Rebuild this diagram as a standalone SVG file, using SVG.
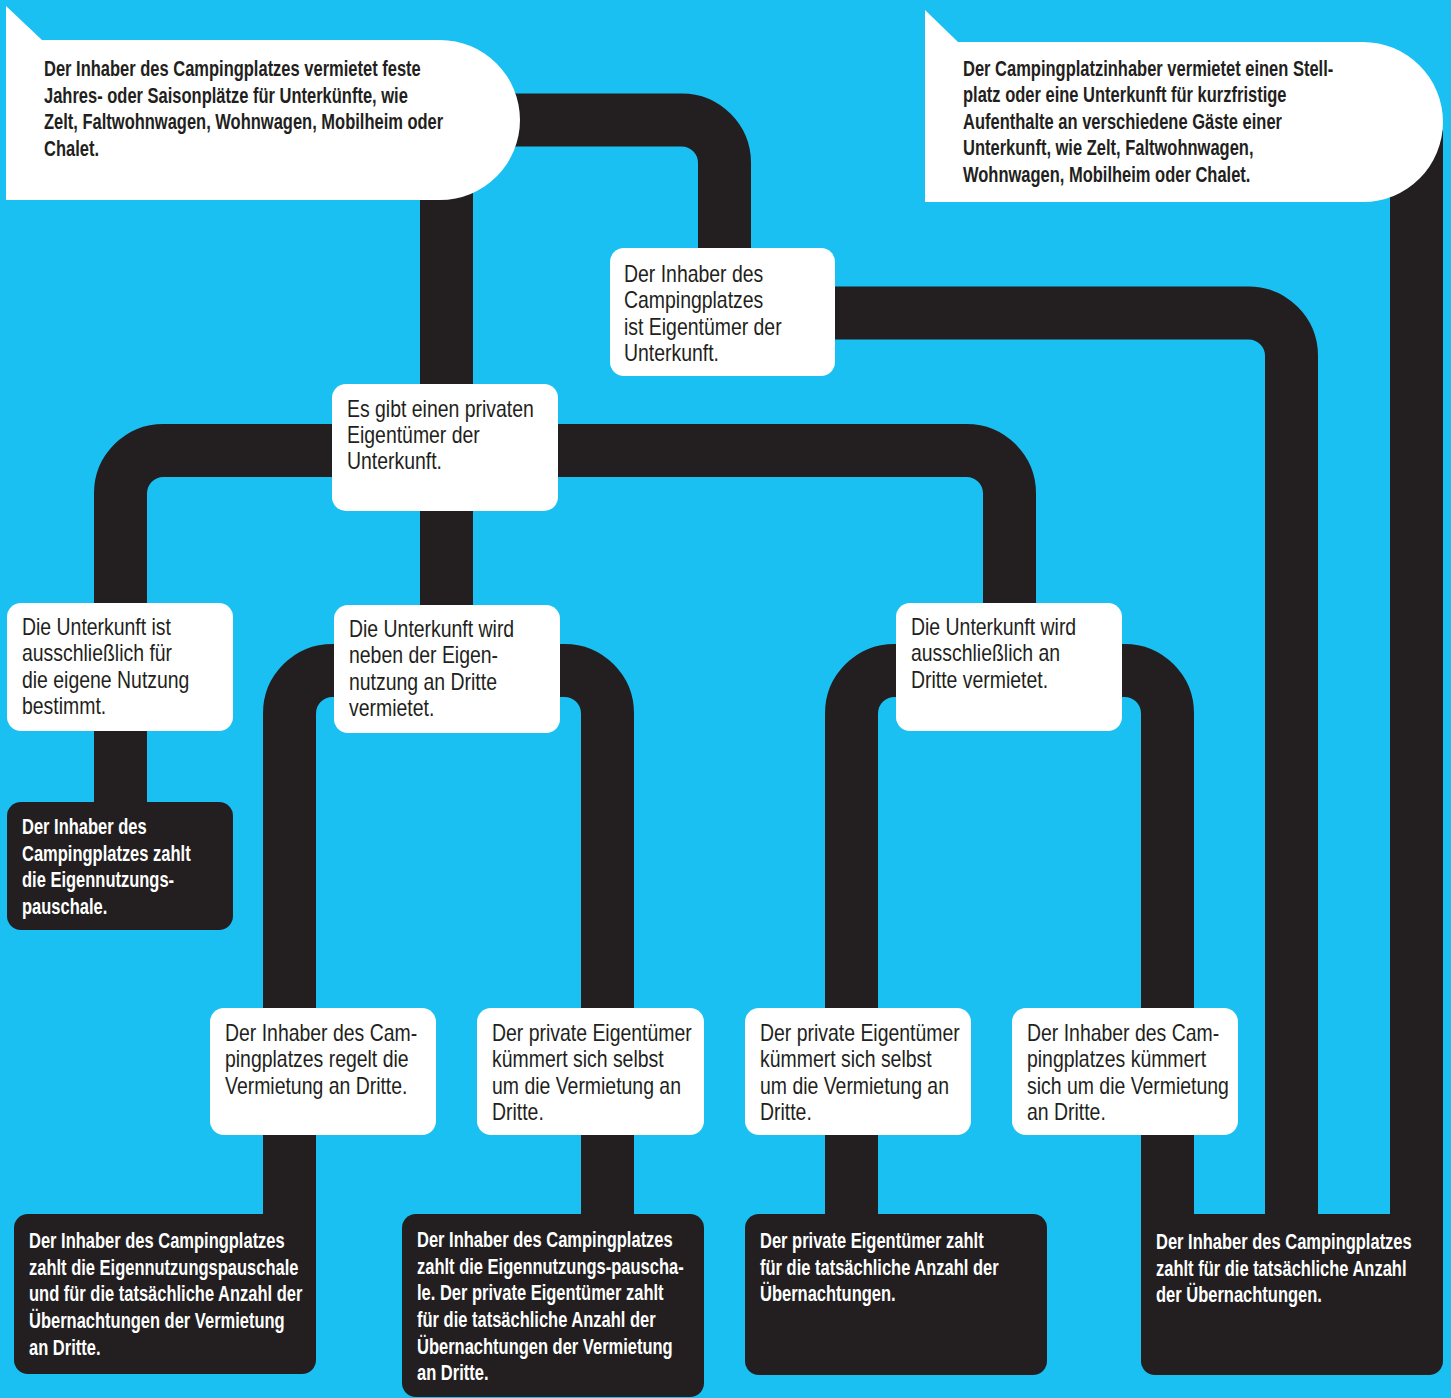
<svg xmlns="http://www.w3.org/2000/svg" width="1451" height="1398" viewBox="0 0 1451 1398">
<style>
.wire{fill:none;stroke:#231F20;stroke-width:53}
.wbox{fill:#FFFFFF}
.dbox{fill:#231F20}
.t{font-family:"Liberation Sans",Arial,sans-serif;font-size:23px;fill:#231F20}
.tb{font-family:"Liberation Sans",Arial,sans-serif;font-weight:bold;font-size:22px;fill:#231F20}
.tw{font-family:"Liberation Sans",Arial,sans-serif;font-weight:bold;font-size:22px;fill:#FFFFFF}
</style>
<rect x="0" y="0" width="1451" height="1398" fill="#19C0F1"/>
<g id="connectors">
<path class="wire" d="M480 120 H681.5 A43 43 0 0 1 724.5 163 V255"/>
<path class="wire" d="M446.5 150 V615"/>
<path class="wire" d="M825 313 H1248.5 A43 43 0 0 1 1291.5 356 V1240"/>
<path class="wire" d="M1416.5 130 V1240"/>
<path class="wire" d="M345 450.5 H163.5 A43 43 0 0 0 120.5 493.5 V815"/>
<path class="wire" d="M545 450.5 H966.5 A43 43 0 0 1 1009.5 493.5 V615"/>
<path class="wire" d="M345 670.5 H332.5 A43 43 0 0 0 289.5 713.5 V1240"/>
<path class="wire" d="M550 670.5 H564.5 A43 43 0 0 1 607.5 713.5 V1240"/>
<path class="wire" d="M905 670.5 H894.5 A43 43 0 0 0 851.5 713.5 V1240"/>
<path class="wire" d="M1115 670.5 H1124.5 A43 43 0 0 1 1167.5 713.5 V1240"/>
</g>
<g id="bubble-left">
<path class="wbox" d="M6 6 L42 40 H440 A80 80 0 0 1 440 200 H6 Z"/>
<text class="tb" transform="translate(44 76) scale(0.75 1)"><tspan x="0" y="0">Der Inhaber des Campingplatzes vermietet feste</tspan><tspan x="0" y="26.7">Jahres- oder Saisonplätze für Unterkünfte, wie</tspan><tspan x="0" y="53.4">Zelt, Faltwohnwagen, Wohnwagen, Mobilheim oder</tspan><tspan x="0" y="80.1">Chalet.</tspan></text>
</g>
<g id="bubble-right">
<path class="wbox" d="M925 10 L958 42 H1363 A80 80 0 0 1 1363 202 H925 Z"/>
<text class="tb" transform="translate(963 76) scale(0.75 1)"><tspan x="0" y="0">Der Campingplatzinhaber vermietet einen Stell-</tspan><tspan x="0" y="26.5">platz oder eine Unterkunft für kurzfristige</tspan><tspan x="0" y="53">Aufenthalte an verschiedene Gäste einer</tspan><tspan x="0" y="79.5">Unterkunft, wie Zelt, Faltwohnwagen,</tspan><tspan x="0" y="106">Wohnwagen, Mobilheim oder Chalet.</tspan></text>
</g>
<g id="node-a">
<rect class="wbox" x="610" y="248" width="225" height="128" rx="14"/>
<text class="t" transform="translate(624 282) scale(0.845 1)"><tspan x="0" y="0">Der Inhaber des</tspan><tspan x="0" y="26.5">Campingplatzes</tspan><tspan x="0" y="53">ist Eigentümer der</tspan><tspan x="0" y="79.5">Unterkunft.</tspan></text>
</g>
<g id="node-b">
<rect class="wbox" x="332" y="384" width="226" height="127" rx="14"/>
<text class="t" transform="translate(347 416.5) scale(0.845 1)"><tspan x="0" y="0">Es gibt einen privaten</tspan><tspan x="0" y="26.5">Eigentümer der</tspan><tspan x="0" y="53">Unterkunft.</tspan></text>
</g>
<g id="node-c">
<rect class="wbox" x="7" y="603" width="226" height="128" rx="14"/>
<text class="t" transform="translate(22 635) scale(0.845 1)"><tspan x="0" y="0">Die Unterkunft ist</tspan><tspan x="0" y="26.5">ausschließlich für</tspan><tspan x="0" y="53">die eigene Nutzung</tspan><tspan x="0" y="79.5">bestimmt.</tspan></text>
</g>
<g id="node-d">
<rect class="wbox" x="334" y="605" width="226" height="128" rx="14"/>
<text class="t" transform="translate(349 637) scale(0.845 1)"><tspan x="0" y="0">Die Unterkunft wird</tspan><tspan x="0" y="26.5">neben der Eigen-</tspan><tspan x="0" y="53">nutzung an Dritte</tspan><tspan x="0" y="79.5">vermietet.</tspan></text>
</g>
<g id="node-e">
<rect class="wbox" x="896" y="603" width="226" height="128" rx="14"/>
<text class="t" transform="translate(911 635) scale(0.845 1)"><tspan x="0" y="0">Die Unterkunft wird</tspan><tspan x="0" y="26.5">ausschließlich an</tspan><tspan x="0" y="53">Dritte vermietet.</tspan></text>
</g>
<g id="node-f">
<rect class="dbox" x="7" y="802" width="226" height="128" rx="14"/>
<text class="tw" transform="translate(22 834) scale(0.75 1)"><tspan x="0" y="0">Der Inhaber des</tspan><tspan x="0" y="26.7">Campingplatzes zahlt</tspan><tspan x="0" y="53.4">die Eigennutzungs-</tspan><tspan x="0" y="80.1">pauschale.</tspan></text>
</g>
<g id="node-g">
<rect class="wbox" x="210" y="1008" width="226" height="127" rx="14"/>
<text class="t" transform="translate(225 1041) scale(0.845 1)"><tspan x="0" y="0">Der Inhaber des Cam-</tspan><tspan x="0" y="26.5">pingplatzes regelt die</tspan><tspan x="0" y="53">Vermietung an Dritte.</tspan></text>
</g>
<g id="node-h">
<rect class="wbox" x="477" y="1008" width="227" height="127" rx="14"/>
<text class="t" transform="translate(492 1041) scale(0.845 1)"><tspan x="0" y="0">Der private Eigentümer</tspan><tspan x="0" y="26.5">kümmert sich selbst</tspan><tspan x="0" y="53">um die Vermietung an</tspan><tspan x="0" y="79.5">Dritte.</tspan></text>
</g>
<g id="node-i">
<rect class="wbox" x="745" y="1008" width="226" height="127" rx="14"/>
<text class="t" transform="translate(760 1041) scale(0.845 1)"><tspan x="0" y="0">Der private Eigentümer</tspan><tspan x="0" y="26.5">kümmert sich selbst</tspan><tspan x="0" y="53">um die Vermietung an</tspan><tspan x="0" y="79.5">Dritte.</tspan></text>
</g>
<g id="node-j">
<rect class="wbox" x="1012" y="1008" width="226" height="127" rx="14"/>
<text class="t" transform="translate(1027 1041) scale(0.845 1)"><tspan x="0" y="0">Der Inhaber des Cam-</tspan><tspan x="0" y="26.5">pingplatzes kümmert</tspan><tspan x="0" y="53">sich um die Vermietung</tspan><tspan x="0" y="79.5">an Dritte.</tspan></text>
</g>
<g id="node-k">
<rect class="dbox" x="14" y="1214" width="302" height="160" rx="14"/>
<text class="tw" transform="translate(29 1248) scale(0.75 1)"><tspan x="0" y="0">Der Inhaber des Campingplatzes</tspan><tspan x="0" y="26.7">zahlt die Eigennutzungspauschale</tspan><tspan x="0" y="53.4">und für die tatsächliche Anzahl der</tspan><tspan x="0" y="80.1">Übernachtungen der Vermietung</tspan><tspan x="0" y="106.8">an Dritte.</tspan></text>
</g>
<g id="node-l">
<rect class="dbox" x="402" y="1214" width="302" height="183" rx="14"/>
<text class="tw" transform="translate(417 1247) scale(0.75 1)"><tspan x="0" y="0">Der Inhaber des Campingplatzes</tspan><tspan x="0" y="26.7">zahlt die Eigennutzungs-pauscha-</tspan><tspan x="0" y="53.4">le. Der private Eigentümer zahlt</tspan><tspan x="0" y="80.1">für die tatsächliche Anzahl der</tspan><tspan x="0" y="106.8">Übernachtungen der Vermietung</tspan><tspan x="0" y="133.5">an Dritte.</tspan></text>
</g>
<g id="node-m">
<rect class="dbox" x="745" y="1214" width="302" height="161" rx="14"/>
<text class="tw" transform="translate(760 1248) scale(0.75 1)"><tspan x="0" y="0">Der private Eigentümer zahlt</tspan><tspan x="0" y="26.7">für die tatsächliche Anzahl der</tspan><tspan x="0" y="53.4">Übernachtungen.</tspan></text>
</g>
<g id="node-n">
<rect class="dbox" x="1141" y="1214" width="302" height="161" rx="14"/>
<rect class="dbox" x="1141" y="1214" width="302" height="30"/>
<text class="tw" transform="translate(1156 1249) scale(0.75 1)"><tspan x="0" y="0">Der Inhaber des Campingplatzes</tspan><tspan x="0" y="26.7">zahlt für die tatsächliche Anzahl</tspan><tspan x="0" y="53.4">der Übernachtungen.</tspan></text>
</g>
</svg>
